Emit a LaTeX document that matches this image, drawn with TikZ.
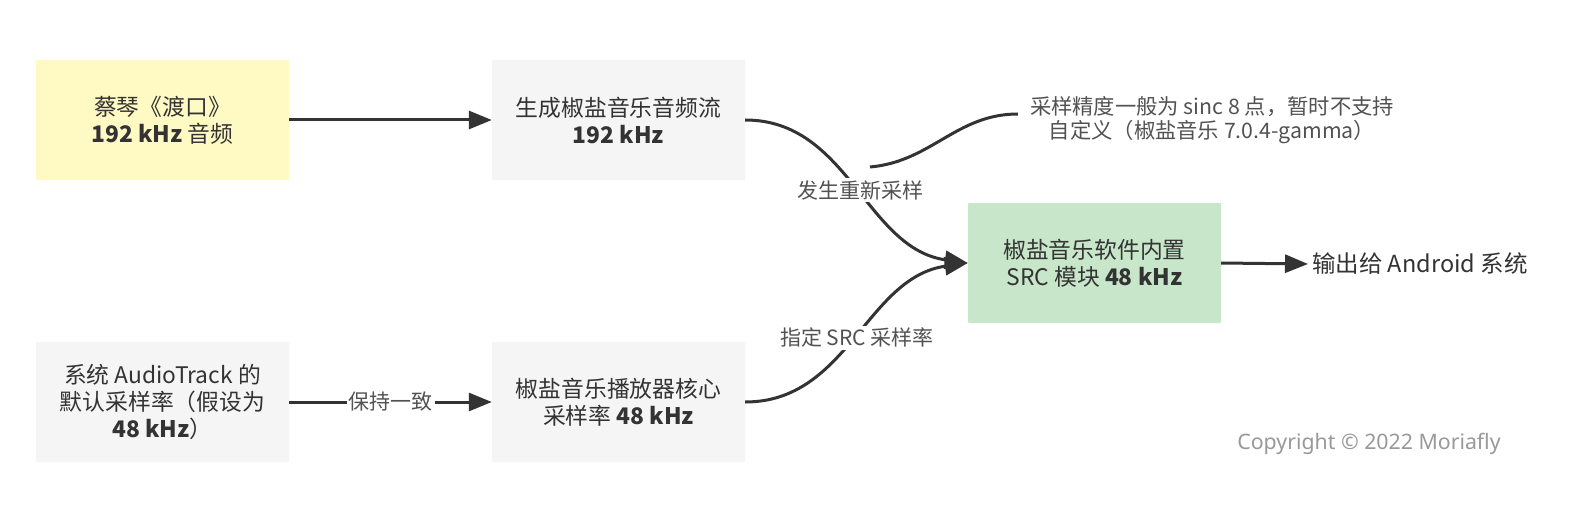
\documentclass[tikz,border=0pt]{standalone}
\usepackage{fontspec}
\setmainfont{Noto Sans CJK SC}
\newfontfamily\cpfont{Noto Sans}
\usetikzlibrary{arrows.meta}
\definecolor{txt}{HTML}{333333}
\definecolor{yel}{HTML}{FFF9C4}
\definecolor{gry}{HTML}{F5F5F5}
\definecolor{grn}{HTML}{C8E6C9}
\definecolor{cpc}{HTML}{999999}
\tikzset{
  box/.style={minimum width=253pt, minimum height=120pt, inner sep=0pt, align=center, text=txt, font=\fontsize{22.8}{27}\selectfont, rounded corners=1pt},
  conn/.style={draw=txt, line width=3pt, -{Triangle[length=23pt,width=18pt]}},
  plain/.style={draw=txt, line width=3pt},
  lbl/.style={fill=white, text=txt!85, font=\fontsize{21}{25}\selectfont, inner sep=2pt},
  free/.style={text=txt, font=\fontsize{23.5}{27}\selectfont, align=center}
}
\begin{document}
\begin{tikzpicture}[x=1pt,y=1pt]
\path[use as bounding box, fill=white] (0,0) rectangle (1569,-516);
\node[box, fill=yel] (A) at (162.5,-120) {蔡琴《渡口》\\\textbf{192 kHz} 音频};
\node[box, fill=gry] (B) at (618.5,-120) {生成椒盐音乐音频流\\\textbf{192 kHz}};
\node[box, fill=gry] (C) at (162.5,-402) {系统 AudioTrack 的\\默认采样率（假设为\\\textbf{48 kHz}）};
\node[box, fill=gry] (D) at (618.5,-402) {椒盐音乐播放器核心\\采样率 \textbf{48 kHz}};
\node[box, fill=grn] (E) at (1094.5,-263) {椒盐音乐软件内置\\SRC 模块 \textbf{48 kHz}};
\node[free, anchor=west, inner sep=4pt] (O) at (1308,-264) {输出给 Android 系统};
\node[free, inner xsep=12pt, inner ysep=0pt, text=txt!85, font=\fontsize{21.3}{24}\selectfont] (N) at (1212,-120) {采样精度一般为 sinc 8 点，暂时不支持\\自定义（椒盐音乐 7.0.4-gamma）};
\node[text=cpc, font=\cpfont\fontsize{21.3}{25}\selectfont] (cp) at (1369,-444) {Copyright © 2022 Moriafly};
\draw[conn] (A.east) -- (B.west);
\draw[conn] (C.east) -- node[lbl] {保持一致} (D.west);
\draw[conn] (B.east) to[out=0,in=172] node[lbl, pos=0.52] (L1) {发生重新采样} (E.west);
\draw[conn] (D.east) to[out=0,in=188] node[lbl, pos=0.5] (L2) {指定 SRC 采样率} (E.west);
\draw[conn] (E.east) -- (O.west);
\coordinate (ns) at (870,-167);
\draw[plain] (ns) to[out=5,in=180] ([yshift=6pt]N.west);
\end{tikzpicture}
\end{document}
